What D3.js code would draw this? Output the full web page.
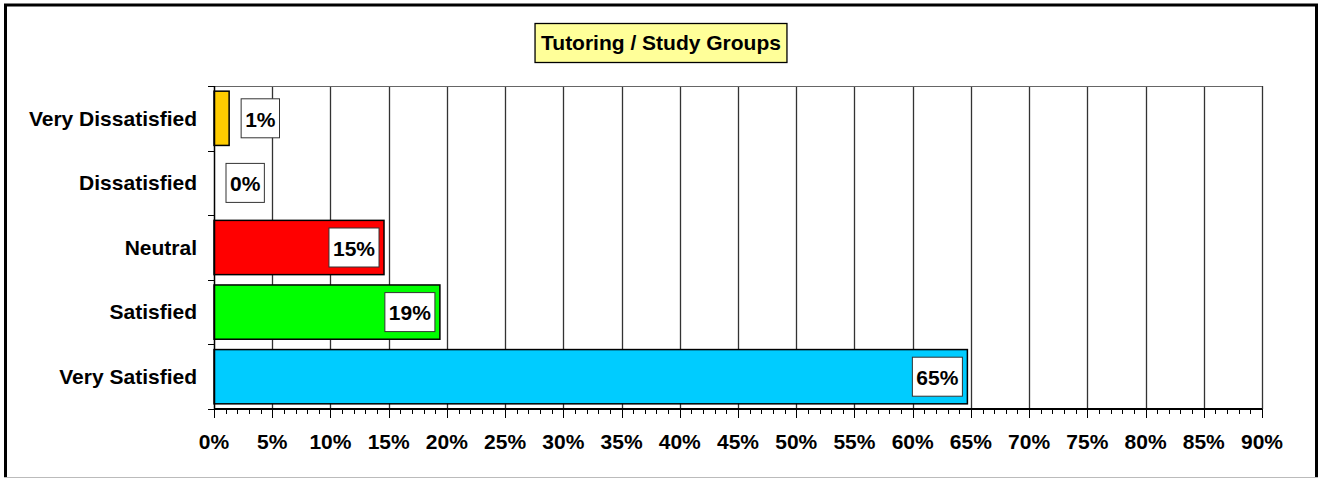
<!DOCTYPE html>
<html>
<head>
<meta charset="utf-8">
<script src="https://cdn.jsdelivr.net/npm/d3@7"></script>
<style>
  body { margin: 0; background: #fff; }
  svg text { font-family: "Liberation Sans", Arial, sans-serif; font-weight: bold; }
</style>
</head>
<body>
<div class="chart"></div>
<script>
const FRAME_WIDTH = 1322;
const FRAME_HEIGHT = 479;
const MARGINS = {left: 214, right: 60, top: 86, bottom: 70};

const TITLE = "Tutoring / Study Groups";
const CATEGORIES = ["Very Dissatisfied", "Dissatisfied", "Neutral", "Satisfied", "Very Satisfied"];
const VALUES = [1.3, 0, 14.6, 19.4, 64.7];
const LABELS = ["1%", "0%", "15%", "19%", "65%"];
const COLORS = ["#FFCC00", "#FF00FF", "#FF0000", "#00FF00", "#00CCFF"];
const X_TICKS = [0, 5, 10, 15, 20, 25, 30, 35, 40, 45, 50, 55, 60, 65, 70, 75, 80, 85, 90];

const PLOT_WIDTH = 1262 - MARGINS.left;
const PLOT_HEIGHT = 409 - MARGINS.top;
const FONT = "21px";

const FRAME = d3.select(".chart")
  .append("svg")
  .attr("width", FRAME_WIDTH)
  .attr("height", FRAME_HEIGHT);

// outer border: thick black on top/left/right, thin gray at the bottom
FRAME.append("line")
  .attr("x1", 4).attr("x2", 1318).attr("y1", 5).attr("y2", 5)
  .attr("stroke", "#000").attr("stroke-width", 3);
FRAME.append("line")
  .attr("x1", 5.5).attr("x2", 5.5).attr("y1", 4).attr("y2", 477)
  .attr("stroke", "#000").attr("stroke-width", 3);
FRAME.append("line")
  .attr("x1", 1316.5).attr("x2", 1316.5).attr("y1", 4).attr("y2", 477)
  .attr("stroke", "#000").attr("stroke-width", 3);
FRAME.append("line")
  .attr("x1", 4).attr("x2", 1318).attr("y1", 477.5).attr("y2", 477.5)
  .attr("stroke", "#bbb").attr("stroke-width", 1);

const X_SCALE = d3.scaleLinear().domain([0, 90]).range([0, PLOT_WIDTH]);
const Y_SCALE = d3.scaleBand().domain(CATEGORIES).range([0, PLOT_HEIGHT]).paddingInner(0.16).paddingOuter(0.08);

const PLOT = FRAME.append("g")
  .attr("transform", "translate(" + MARGINS.left + "," + MARGINS.top + ")");

// vertical gridlines
PLOT.selectAll(".grid")
  .data(X_TICKS.slice(1))
  .enter()
  .append("line")
    .attr("x1", d => Math.round(X_SCALE(d)) + 0.5)
    .attr("x2", d => Math.round(X_SCALE(d)) + 0.5)
    .attr("y1", 0)
    .attr("y2", PLOT_HEIGHT)
    .attr("stroke", "#333")
    .attr("stroke-width", 1.3);

// top border of plot area
PLOT.append("line")
  .attr("x1", -6).attr("x2", PLOT_WIDTH)
  .attr("y1", 0.5).attr("y2", 0.5)
  .attr("stroke", "#666");

// bars
PLOT.selectAll(".bar")
  .data(VALUES)
  .enter()
  .append("rect")
    .attr("x", 0)
    .attr("y", (d, i) => Y_SCALE(CATEGORIES[i]))
    .attr("width", d => X_SCALE(d))
    .attr("height", Y_SCALE.bandwidth())
    .attr("fill", (d, i) => COLORS[i])
    .attr("stroke", "#000")
    .attr("stroke-width", d => d > 0 ? 1.5 : 0);

// x axis
const MINOR = d3.range(0, 91, 1);
const X_AXIS = PLOT.append("g").attr("transform", "translate(0," + PLOT_HEIGHT + ")");
X_AXIS.append("line")
  .attr("x1", 0).attr("x2", PLOT_WIDTH)
  .attr("y1", 0).attr("y2", 0)
  .attr("stroke", "#000").attr("stroke-width", 2);
X_AXIS.selectAll(".minor")
  .data(MINOR)
  .enter()
  .append("line")
    .attr("x1", d => Math.round(X_SCALE(d)) + 0.5)
    .attr("x2", d => Math.round(X_SCALE(d)) + 0.5)
    .attr("y1", 0)
    .attr("y2", d => d % 5 === 0 ? 9 : 5)
    .attr("stroke", "#000");
X_AXIS.selectAll(".tick-label")
  .data(X_TICKS)
  .enter()
  .append("text")
    .attr("x", d => X_SCALE(d))
    .attr("y", 40)
    .attr("text-anchor", "middle")
    .attr("font-size", FONT)
    .text(d => d + "%");

// y axis
PLOT.append("line")
  .attr("x1", 0.5).attr("x2", 0.5)
  .attr("y1", 0).attr("y2", PLOT_HEIGHT)
  .attr("stroke", "#000").attr("stroke-width", 1.5);
const STEP = PLOT_HEIGHT / CATEGORIES.length;
PLOT.selectAll(".ytick")
  .data(d3.range(0, CATEGORIES.length + 1))
  .enter()
  .append("line")
    .attr("x1", -6).attr("x2", 0)
    .attr("y1", d => Math.round(d * STEP) + 0.5)
    .attr("y2", d => Math.round(d * STEP) + 0.5)
    .attr("stroke", "#000");
PLOT.selectAll(".ylabel")
  .data(CATEGORIES)
  .enter()
  .append("text")
    .attr("x", -17)
    .attr("y", d => Y_SCALE(d) + Y_SCALE.bandwidth() / 2)
    .attr("dy", "0.35em")
    .attr("text-anchor", "end")
    .attr("font-size", FONT)
    .text(d => d);

// value labels
const LABEL_G = PLOT.selectAll(".vlabel")
  .data(VALUES)
  .enter()
  .append("g");
LABEL_G.each(function(d, i) {
  const g = d3.select(this);
  const txt = g.append("text")
    .attr("font-size", FONT)
    .attr("dy", "0.35em")
    .text(LABELS[i]);
  const w = txt.node().getComputedTextLength();
  const boxW = w + 8, boxH = 39;
  const cy = Y_SCALE(CATEGORIES[i]) + Y_SCALE.bandwidth() / 2;
  const barEnd = X_SCALE(d);
  let x0;
  if (barEnd > boxW + 10) {
    x0 = barEnd - 5 - boxW;
  } else {
    x0 = barEnd + 12;
  }
  g.insert("rect", "text")
    .attr("x", x0).attr("y", cy - boxH / 2)
    .attr("width", boxW).attr("height", boxH)
    .attr("fill", "#fff")
    .attr("stroke", "#333")
    .attr("stroke-width", 1);
  txt.attr("x", x0 + boxW / 2).attr("y", cy + 1).attr("text-anchor", "middle");
});

// title
const TITLE_G = FRAME.append("g");
const TITLE_T = TITLE_G.append("text")
  .attr("x", 661)
  .attr("y", 43)
  .attr("dy", "0.35em")
  .attr("text-anchor", "middle")
  .attr("font-size", FONT)
  .text(TITLE);
const tw = TITLE_T.node().getComputedTextLength();
TITLE_G.insert("rect", "text")
  .attr("x", 661 - tw / 2 - 6)
  .attr("y", 23.5)
  .attr("width", tw + 12)
  .attr("height", 39)
  .attr("fill", "#FFFF99")
  .attr("stroke", "#000")
  .attr("stroke-width", 1.3);
</script>
</body>
</html>
